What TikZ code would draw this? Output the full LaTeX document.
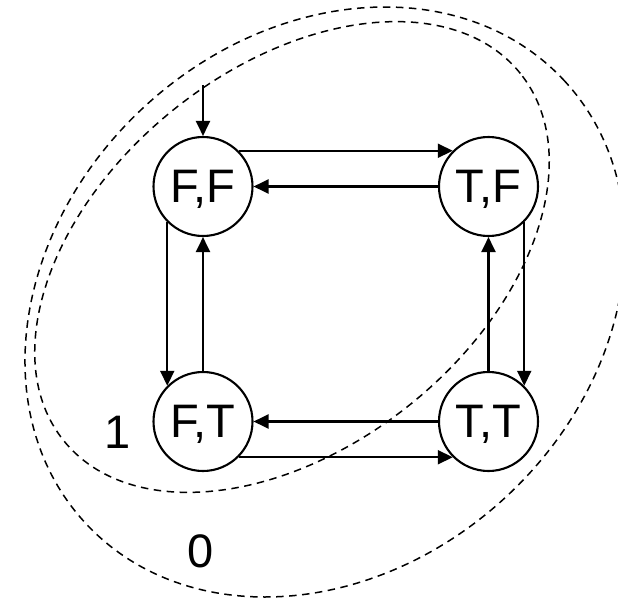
\documentclass[tikz,border=0pt]{standalone}
\usepackage{fontspec}
\setmainfont{Liberation Sans}
\usetikzlibrary{arrows.meta}

\tikzset{
  state/.style={circle, draw, line width=2.1pt, minimum size=99pt, inner sep=0pt,
    font=\fontsize{47}{56}\selectfont, text depth=0pt},
  edge/.style={line width=2.1pt, -{Triangle[length=15pt,width=14pt]}},
  region/.style={line width=1.5pt, dash pattern=on 7.5pt off 5.5pt},
  regionlabel/.style={font=\fontsize{47}{56}\selectfont, text depth=0pt, inner sep=0pt},
}

\begin{document}
\begin{tikzpicture}[x=1pt, y=-1pt]
  \useasboundingbox (0,0) rectangle (618,602);
  \clip (0,0) rectangle (618,602);

  % outer region (0)
  \coordinate (c0) at (325,302);
  \draw[region, rotate around={42.6:(c0)}] (c0) ellipse [x radius=326pt, y radius=266pt];

  % inner region (1)
  \coordinate (c1) at (292,257);
  \draw[region, rotate around={38.8:(c1)}] (c1) ellipse [x radius=293pt, y radius=189pt];

  % states
  \node[state] (ff) at (203,186.5) {F,F};
  \node[state] (tf) at (488.5,186.5) {T,F};
  \node[state] (ft) at (203,421.5) {F,T};
  \node[state] (tt) at (488.5,421.5) {T,T};

  % region labels
  \node[regionlabel] (one) at (118,432) {1};
  \node[regionlabel] (zero) at (201,551) {0};

  % initial transition
  \coordinate (start) at (203,85);
  \draw[edge] (start) -- (ff.north);

  % transitions
  \draw[edge] (ff.north east) -- (tf.north west);
  \draw[edge] (tf.west) -- (ff.east);
  \draw[edge] (ff.south west) -- (ft.north west);
  \draw[edge] (ft.north) -- (ff.south);
  \draw[edge] (tf.south east) -- (tt.north east);
  \draw[edge] (tt.north) -- (tf.south);
  \draw[edge] (tt.west) -- (ft.east);
  \draw[edge] (ft.south east) -- (tt.south west);
\end{tikzpicture}
\end{document}
